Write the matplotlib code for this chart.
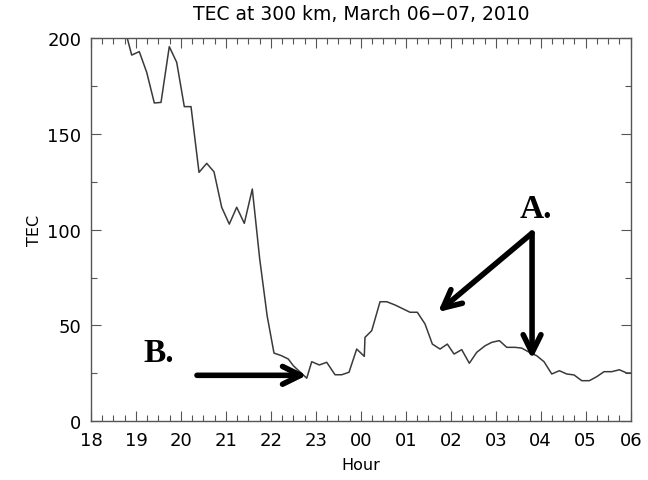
import matplotlib
matplotlib.use('Agg')
import matplotlib.pyplot as plt
from matplotlib.ticker import MultipleLocator, FixedLocator

# hours after 00 on March 06 (values > 24 are on March 07)
hours = [18.75, 18.905, 19.074, 19.239, 19.408, 19.557, 19.741, 19.906,
         20.075, 20.224, 20.402, 20.573, 20.735, 20.906, 21.075, 21.240,
         21.409, 21.587, 21.75, 21.917, 22.069, 22.23, 22.387, 22.499,
         22.797, 22.908, 23.077, 23.241, 23.426, 23.575, 23.737, 23.908,
         24.077, 24.092, 24.242, 24.427, 24.576, 24.760, 24.945, 25.094,
         25.256, 25.427, 25.590, 25.761, 25.923, 26.072, 26.243, 26.412,
         26.577, 26.761, 26.910, 27.080, 27.244, 27.428, 27.577, 27.747,
         27.911, 28.073, 28.245, 28.414, 28.578, 28.740, 28.912, 29.081,
         29.245, 29.408, 29.579, 29.748, 29.913, 30.0]
tec = [205, 191.1, 192.9, 182.1, 166.1, 166.4, 195.5, 187.3,
       164.2, 164.2, 129.9, 134.6, 130.2, 111.7, 102.9, 111.7,
       103.3, 121.2, 85, 55, 35.6, 34.3, 32.5, 29.0,
       22.5, 31.1, 29.4, 30.8, 24.3, 24.3, 25.6, 37.7,
       33.9, 43.8, 47.3, 62.4, 62.4, 60.7, 58.6, 56.9,
       56.9, 50.8, 40.3, 37.7, 40.3, 35.1, 37.4, 30.3,
       36.0, 39.4, 41.2, 42.1, 38.6, 38.6, 38.2, 36.0,
       34.2, 31.1, 24.7, 26.4, 24.7, 24.2, 21.2, 21.2,
       23.3, 25.9, 25.9, 26.9, 25.2, 25.2]

xticks = list(range(18, 31))
xticklabels = ['%02d' % (h % 24) for h in xticks]
yticks = [0, 50, 100, 150, 200]

fig = plt.figure(figsize=(6.48, 4.81), dpi=100)
ax = fig.add_axes([0.1404, 0.122, 0.9733 - 0.1404, 0.9189 - 0.122])

ax.plot(hours, tec, color='#3a3a3a', lw=1.1, clip_on=True)
ax.set_xlim(18, 30)
ax.set_ylim(0, 200)

ax.xaxis.set_major_locator(FixedLocator(xticks))
ax.set_xticklabels(xticklabels)
ax.xaxis.set_minor_locator(MultipleLocator(0.25))
ax.yaxis.set_major_locator(FixedLocator(yticks))
ax.yaxis.set_minor_locator(MultipleLocator(25))
ax.tick_params(which='both', direction='in', top=True, right=True,
               color='#555555', width=0.8)
ax.tick_params(which='major', length=7, labelsize=13, pad=7)
ax.tick_params(which='minor', length=4)
for s in ax.spines.values():
    s.set_color('#555555')
    s.set_linewidth(1.0)

ax.set_title('TEC at 300 km, March 06\u221207, 2010', fontsize=13.5, pad=14)
ax.set_xlabel('Hour', fontsize=11.5, labelpad=6)
ax.set_ylabel('TEC', fontsize=11.5, labelpad=4)

arrow = dict(arrowstyle='->,head_length=0.65,head_width=0.32',
             lw=4, color='black', mutation_scale=20, shrinkA=0, shrinkB=0)
ax.annotate('', xy=(22.8, 24.0), xytext=(20.357, 24.0), arrowprops=arrow)
ax.annotate('', xy=(25.716, 57.0), xytext=(27.807, 98.2), arrowprops=arrow)
ax.annotate('', xy=(27.807, 32.5), xytext=(27.807, 98.2), arrowprops=arrow)

ax.text(27.9, 111, 'A.', fontsize=24, fontweight='bold',
        family='Liberation Serif', ha='center', va='center')
ax.text(19.5, 36, 'B.', fontsize=24, fontweight='bold',
        family='Liberation Serif', ha='center', va='center')

fig.savefig('out.png', dpi=100)
